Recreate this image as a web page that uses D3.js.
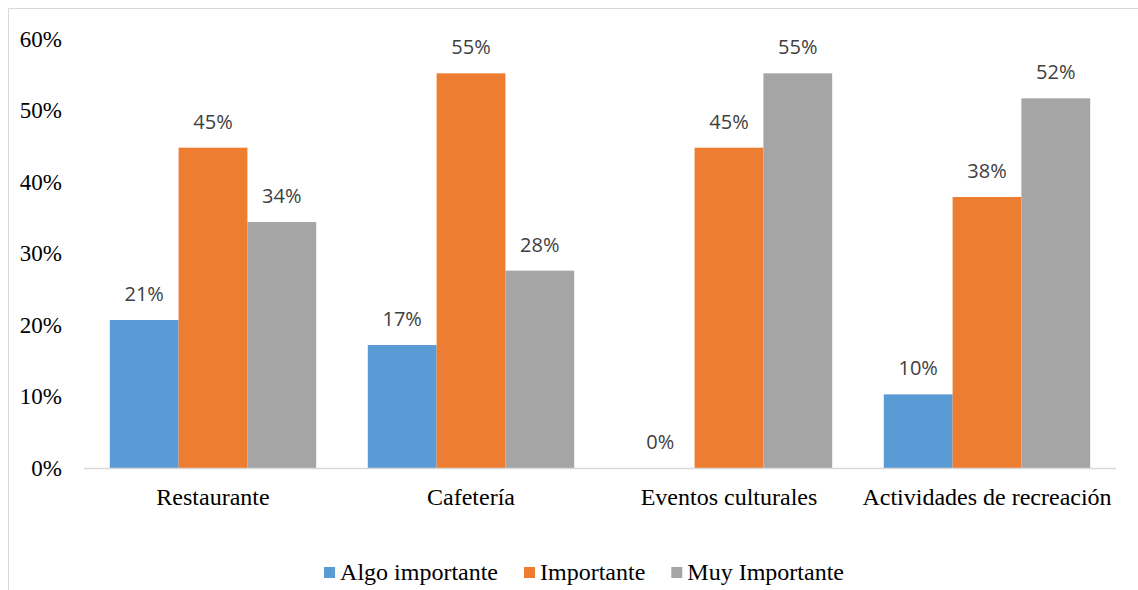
<!DOCTYPE html>
<html>
<head>
<meta charset="utf-8">
<script src="https://cdn.jsdelivr.net/npm/d3@7"></script>
<style>
  html, body { margin: 0; padding: 0; background: #fff; }
  svg { display: block; }
  .serif { font-family: "Liberation Serif", "Times New Roman", serif; fill: #000; }
  .lbl { font-family: "Open Sans", "Liberation Sans", sans-serif; fill: #404040; }
</style>
</head>
<body>
<svg id="chart" width="1138" height="590"></svg>
<script>
// Categories, series and their values (share of responses)
const categories = ["Restaurante", "Cafetería", "Eventos culturales", "Actividades de recreación"];
const seriesNames = ["Algo importante", "Importante", "Muy Importante"];
const algoImportante = [0.207, 0.172, 0.0, 0.103];
const importante     = [0.448, 0.552, 0.448, 0.379];
const muyImportante  = [0.344, 0.276, 0.552, 0.517];
const seriesColors = ["#5b9bd5", "#ed7d31", "#a5a5a5"];
const yTicks = [0, 0.1, 0.2, 0.3, 0.4, 0.5, 0.6];

const seriesValues = [algoImportante, importante, muyImportante];
const rows = categories.map((c, i) => ({
  category: c,
  values: seriesNames.map((s, j) => ({ series: s, value: seriesValues[j][i] }))
}));

const svg = d3.select("#chart");
const W = 1138, H = 590;

// chart frame (left and top edges)
svg.append("path")
  .attr("d", `M8.5,${H} V8.5 H${W}`)
  .attr("fill", "none")
  .attr("stroke", "#d9d9d9")
  .attr("stroke-width", 1);

const x0 = d3.scaleBand().domain(categories).range([84, 1116])
  .paddingInner(0.2).paddingOuter(0.1);
const x1 = d3.scaleBand().domain(seriesNames).range([0, x0.bandwidth()]);
const y = d3.scaleLinear().domain([0, 0.6]).range([468, 39]);
const color = d3.scaleOrdinal().domain(seriesNames).range(seriesColors);
const pct = d3.format(".0%");

// y axis tick labels, no axis line
const yAxis = d3.axisLeft(y).tickValues(yTicks).tickFormat(pct).tickSize(0).tickPadding(0);
const gy = svg.append("g").attr("transform", "translate(62,0)").call(yAxis);
gy.attr("font-family", null).attr("font-size", null);
gy.select(".domain").remove();
gy.selectAll("text")
  .attr("class", "serif")
  .attr("fill", null)
  .style("font-size", "23px");

// bars
const groups = svg.append("g").selectAll("g")
  .data(rows).join("g")
  .attr("transform", d => `translate(${x0(d.category)},0)`);

groups.selectAll("rect")
  .data(d => d.values).join("rect")
  .attr("x", d => x1(d.series))
  .attr("y", d => y(d.value))
  .attr("width", x1.bandwidth())
  .attr("height", d => y(0) - y(d.value))
  .attr("fill", d => color(d.series));

// data labels
groups.selectAll("text")
  .data(d => d.values).join("text")
  .attr("class", "lbl")
  .attr("x", d => x1(d.series) + x1.bandwidth() / 2)
  .attr("y", d => y(d.value) - 19)
  .attr("text-anchor", "middle")
  .style("font-size", "20px")
  .text(d => pct(d.value));

// baseline
svg.append("line")
  .attr("x1", 84).attr("x2", 1116)
  .attr("y1", y(0) + 0.5).attr("y2", y(0) + 0.5)
  .attr("stroke", "#d9d9d9").attr("stroke-width", 1.5);

// category axis labels
const xAxis = d3.axisBottom(x0).tickSize(0).tickPadding(0);
const gx = svg.append("g").attr("transform", "translate(0,505)").call(xAxis);
gx.attr("font-family", null).attr("font-size", null);
gx.select(".domain").remove();
gx.selectAll("text")
  .attr("dy", 0)
  .attr("class", "serif")
  .attr("fill", null)
  .style("font-size", "24px");

// legend
const legend = svg.append("g");
const items = legend.selectAll("g").data(seriesNames).join("g");
items.append("rect")
  .attr("width", 11).attr("height", 11)
  .attr("y", -13)
  .attr("fill", d => color(d));
items.append("text")
  .attr("class", "serif")
  .attr("x", 16)
  .attr("y", 0)
  .style("font-size", "24px")
  .text(d => d);
const gap = 26;
let cx = 0;
items.each(function () {
  const g = d3.select(this);
  g.attr("transform", `translate(${cx},0)`);
  cx += 16 + g.select("text").node().getComputedTextLength() + gap;
});
const legendWidth = cx - gap;
legend.attr("transform", `translate(${584 - legendWidth / 2},580)`);
</script>
</body>
</html>
